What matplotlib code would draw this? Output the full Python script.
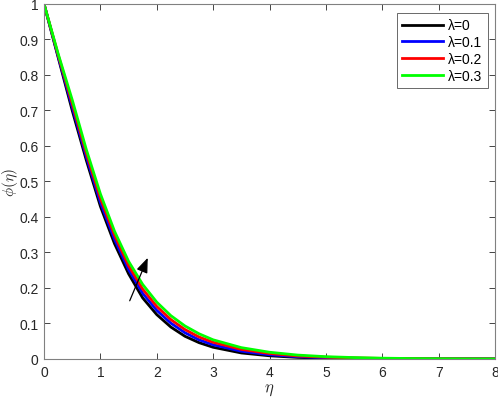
import matplotlib
matplotlib.use("Agg")
from matplotlib import pyplot as plt

# values
eta = [0, 0.25, 0.5, 0.75, 1.0, 1.25, 1.5, 1.75, 2.0, 2.25, 2.5, 2.75, 3.0,
       3.5, 4.0, 4.5, 5.0, 5.5, 6.0, 6.5, 7.0, 7.5, 8.0]
phi_l0 = [1.0, 0.85, 0.70, 0.56, 0.43, 0.325, 0.24, 0.172, 0.125, 0.09, 0.064, 0.046, 0.033,
          0.017, 0.009, 0.0045, 0.002, 0.001, 0.0005, 0.0003, 0.0001, 0.0001, 0.0]
phi_l1 = [1.0, 0.853, 0.71, 0.57, 0.441, 0.337, 0.252, 0.185, 0.137, 0.101, 0.074, 0.054, 0.040,
          0.022, 0.012, 0.0065, 0.0035, 0.002, 0.001, 0.0006, 0.0003, 0.0002, 0.0001]
phi_l2 = [1.0, 0.857, 0.72, 0.58, 0.453, 0.349, 0.263, 0.197, 0.148, 0.111, 0.083, 0.062, 0.047,
          0.027, 0.0155, 0.0085, 0.005, 0.003, 0.0016, 0.001, 0.0005, 0.0003, 0.0001]
phi_l3 = [1.0, 0.86, 0.73, 0.59, 0.465, 0.36, 0.275, 0.21, 0.16, 0.122, 0.093, 0.071, 0.054,
          0.032, 0.019, 0.011, 0.0065, 0.004, 0.0023, 0.0013, 0.0008, 0.0004, 0.0002]
labels = ["λ=0", "λ=0.1", "λ=0.2", "λ=0.3"]
colors = ["#000000", "#0000ff", "#ff0000", "#00ff00"]

plt.rcParams["font.family"] = ["Liberation Sans", "DejaVu Sans"]
plt.rcParams["mathtext.fontset"] = "cm"

fig = plt.figure(figsize=(4.98, 4.02), dpi=100)
ax = fig.add_axes([0.0884, 0.1045, 0.9056, 0.8831])

for y, lab, c in zip([phi_l0, phi_l1, phi_l2, phi_l3], labels, colors):
    ax.plot(eta, y, color=c, lw=2, label=lab)

# arrow showing increase of lambda
ax.annotate("", xy=(1.84, 0.285), xytext=(1.52, 0.164),
            arrowprops=dict(arrowstyle="-|>,head_length=0.9,head_width=0.35",
                            color="black", lw=0.9, shrinkA=0, shrinkB=0))

ax.set_xlim(0, 8)
ax.set_ylim(0, 1)
ax.set_xticks(range(0, 9))
ax.set_yticks([i / 10 for i in range(11)])
ax.set_yticklabels(["0", "0.1", "0.2", "0.3", "0.4", "0.5", "0.6", "0.7", "0.8", "0.9", "1"])
ax.tick_params(direction="in", top=True, right=True, length=4, width=0.6,
               labelsize=10, colors="#262626", pad=4)
for sp in ax.spines.values():
    sp.set_color("#808080")
    sp.set_linewidth(0.8)

ax.set_xlabel(r"$\eta$", fontsize=12, color="#262626", labelpad=2)
ax.set_ylabel(r"$\phi(\eta)$", fontsize=11, color="#262626")
ax.yaxis.set_label_coords(-0.054, 0.5)

leg = ax.legend(loc="upper right", bbox_to_anchor=(0.985, 0.975), fontsize=10,
                frameon=True, fancybox=False, handlelength=2.9, handletextpad=0.4,
                labelspacing=0.2, borderpad=0.4, borderaxespad=0)
leg.get_frame().set_edgecolor("#262626")
leg.get_frame().set_linewidth(0.6)

fig.savefig("out.png", dpi=100)
